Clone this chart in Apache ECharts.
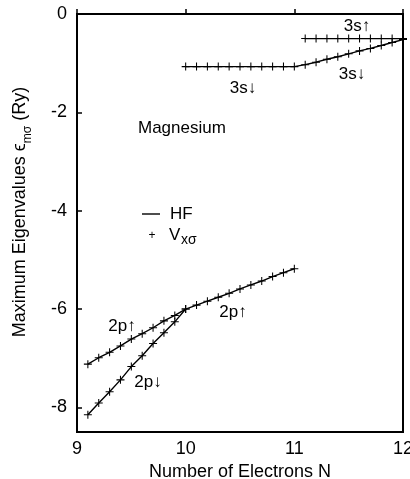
<!DOCTYPE html>
<html>
<head>
<meta charset="utf-8">
<script src="https://cdn.jsdelivr.net/npm/echarts@6/dist/echarts.min.js"></script>
<style>
html,body{margin:0;padding:0;background:#fff;}
#chart{width:410px;height:479px;}
</style>
</head>
<body>
<div id="chart"></div>
<script>
// Data
var xTicks = [9, 10, 11, 12];
var yTicks = [0, -2, -4, -6, -8];

var x2pUp = [9.1, 9.2, 9.3, 9.4, 9.5, 9.6, 9.7, 9.8, 9.9, 10.0, 10.1, 10.2, 10.3, 10.4, 10.5, 10.6, 10.7, 10.8, 10.9, 11.0];
var y2pUp = [-7.12, -6.99, -6.88, -6.75, -6.61, -6.50, -6.38, -6.24, -6.13, -6.00, -5.92, -5.84, -5.76, -5.68, -5.59, -5.51, -5.43, -5.34, -5.26, -5.18];

var x2pDown = [9.1, 9.2, 9.3, 9.4, 9.5, 9.6, 9.7, 9.8, 9.9, 10.0];
var y2pDown = [-8.15, -7.91, -7.68, -7.44, -7.17, -6.95, -6.70, -6.48, -6.26, -6.00];

var x3sDown = [10.0, 10.1, 10.2, 10.3, 10.4, 10.5, 10.6, 10.7, 10.8, 10.9, 11.0, 11.1, 11.2, 11.3, 11.4, 11.5, 11.6, 11.7, 11.8, 11.9, 12.0];
var y3sDown = [-1.07, -1.07, -1.07, -1.07, -1.07, -1.07, -1.07, -1.07, -1.07, -1.07, -1.07, -1.03, -0.98, -0.92, -0.87, -0.81, -0.75, -0.70, -0.64, -0.58, -0.52];

var x3sUp = [11.1, 11.2, 11.3, 11.4, 11.5, 11.6, 11.7, 11.8, 11.9, 12.0];
var y3sUp = [-0.5, -0.5, -0.5, -0.5, -0.5, -0.5, -0.5, -0.5, -0.5, -0.5];

var curveLabels = [
  {text: '3s\u2191', x: 357, y: 26},
  {text: '3s\u2193', x: 243, y: 88},
  {text: '3s\u2193', x: 352, y: 74},
  {text: '2p\u2191', x: 122, y: 326},
  {text: '2p\u2193', x: 148, y: 382},
  {text: '2p\u2191', x: 233, y: 312}
];

function zip(xs, ys) { return xs.map(function (x, i) { return [x, ys[i]]; }); }

var FONT = '"Liberation Sans", Arial, sans-serif';
var PLUS = 'path://M-0.13,-1H0.13V-0.13H1V0.13H0.13V1H-0.13V0.13H-1V-0.13H-0.13Z';

function mkSeries(xs, ys) {
  return {
    type: 'line',
    data: zip(xs, ys),
    symbol: PLUS,
    symbolSize: 8,
    showSymbol: true,
    lineStyle: {color: '#000', width: 1.4},
    itemStyle: {color: '#000'},
    animation: false,
    z: 5
  };
}

var chart = echarts.init(document.getElementById('chart'), null, {renderer: 'canvas'});

var graphics = curveLabels.map(function (l) {
  return {
    type: 'text', x: l.x, y: l.y,
    style: {text: l.text, font: '17px ' + FONT, fill: '#000', align: 'center', verticalAlign: 'middle'}
  };
});
graphics.push({
  type: 'text', x: 138, y: 128,
  style: {text: 'Magnesium', font: '17px ' + FONT, fill: '#000', align: 'left', verticalAlign: 'middle'}
});
// legend
graphics.push({type: 'line', shape: {x1: 142, y1: 214, x2: 160, y2: 214}, style: {stroke: '#000', lineWidth: 1.4}});
graphics.push({type: 'text', x: 170, y: 214, style: {text: 'HF', font: '17px ' + FONT, fill: '#000', align: 'left', verticalAlign: 'middle'}});
graphics.push({type: 'text', x: 152, y: 236, style: {text: '+', font: '12px ' + FONT, fill: '#000', align: 'center', verticalAlign: 'middle'}});
graphics.push({type: 'text', x: 169, y: 235, style: {text: 'V', font: '17px ' + FONT, fill: '#000', align: 'left', verticalAlign: 'middle'}});
graphics.push({type: 'text', x: 181, y: 240, style: {text: 'x\u03c3', font: '14px ' + FONT, fill: '#000', align: 'left', verticalAlign: 'middle'}});
// y axis title
graphics.push({
  type: 'text', x: 20, y: 212, rotation: Math.PI / 2,
  style: {
    text: '{a|Maximum Eigenvalues \u03f5}{s|m\u03c3}{a| (Ry)}',
    align: 'center', verticalAlign: 'middle', fill: '#000',
    rich: {
      a: {fontSize: 18, fontFamily: FONT, lineHeight: 28, verticalAlign: 'middle', fill: '#000'},
      s: {fontSize: 12, fontFamily: FONT, lineHeight: 13, verticalAlign: 'bottom', fill: '#000'}
    }
  }
});

var option = {
  backgroundColor: '#fff',
  animation: false,
  grid: {left: 77, right: 7, top: 14, bottom: 47, show: true, borderColor: '#000', borderWidth: 2,
    backgroundColor: 'transparent', containLabel: false, outerBoundsMode: 'none'},
  xAxis: {
    type: 'value', min: 9, max: 12, interval: 1,
    name: 'Number of Electrons N', nameLocation: 'middle', nameGap: 25,
    nameTextStyle: {fontSize: 18, fontFamily: FONT, color: '#000'},
    axisLine: {show: true, lineStyle: {color: '#000', width: 2}},
    axisTick: {show: true, inside: true, length: 5, lineStyle: {color: '#000', width: 1.5}},
    axisLabel: {fontSize: 18, fontFamily: FONT, color: '#000', margin: 8,
      formatter: function (v) { return xTicks.indexOf(v) >= 0 ? String(v) : ''; }},
    splitLine: {show: false}
  },
  yAxis: {
    type: 'value', min: -8.5, max: 0,
    interval: 2,
    axisLine: {show: true, lineStyle: {color: '#000', width: 2}},
    axisTick: {show: true, inside: true, length: 5, lineStyle: {color: '#000', width: 1.5},
      customValues: yTicks},
    axisLabel: {fontSize: 18, fontFamily: FONT, color: '#000', margin: 10,
      customValues: yTicks,
      formatter: function (v) { return String(v); }},
    splitLine: {show: false}
  },
  series: [
    mkSeries(x2pUp, y2pUp),
    mkSeries(x2pDown, y2pDown),
    mkSeries(x3sDown, y3sDown),
    mkSeries(x3sUp, y3sUp)
  ],
  graphic: graphics
};
chart.setOption(option);
</script>
</body>
</html>
